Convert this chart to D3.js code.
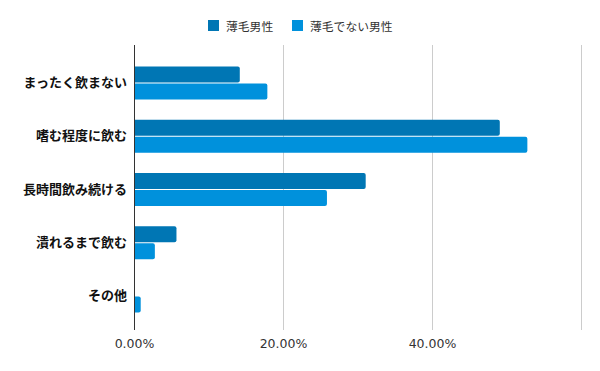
<!DOCTYPE html>
<html><head><meta charset="utf-8">
<script src="https://cdn.jsdelivr.net/npm/d3@7/dist/d3.min.js"></script>
<style>body{margin:0;background:#fff}svg{display:block}</style>
</head><body>
<svg id="c" width="600" height="371"></svg>
<script>
const categories = ["まったく飲まない","嗜む程度に飲む","長時間飲み続ける","潰れるまで飲む","その他"];
const seriesNames = ["薄毛男性","薄毛でない男性"];
const seriesColors = ["#0076b4","#0091dc"];
const valuesBald = [14.2, 49.1, 31.1, 5.7, 0];
const valuesNotBald = [17.9, 52.8, 25.9, 2.8, 0.9];
const tickValues = [0, 20, 40, 60];
const tickLabels = ["0.00%","20.00%","40.00%",""];

const svg = d3.select("#c");
const x = d3.scaleLinear().domain([0,60]).range([134,581]);
const y = d3.scaleBand().domain(categories).range([56.5,322.5]).paddingInner(0.38).paddingOuter(0.19);
const yInner = d3.scaleBand().domain(seriesNames).range([0,y.bandwidth()]).paddingInner(0.06);

// grid
svg.append("g").selectAll("line").data(tickValues.slice(1)).join("line")
  .attr("x1",d=>Math.round(x(d))+0.5).attr("x2",d=>Math.round(x(d))+0.5)
  .attr("y1",45).attr("y2",330).attr("stroke","#cccccc").attr("stroke-width",1);

// x axis labels
const xAxis = d3.axisBottom(x).tickValues(tickValues).tickFormat((d,i)=>tickLabels[i]).tickSize(0).tickPadding(9);
const gx = svg.append("g").attr("transform","translate(0,330)").call(xAxis);
gx.select(".domain").remove();
gx.selectAll("text").attr("font-family","DejaVu Sans, sans-serif").attr("font-size",12.5).attr("fill","#333");

// bars
const data = categories.map((c,i)=>({c, vals:[valuesBald[i], valuesNotBald[i]]}));
const g = svg.append("g");
data.forEach(d=>{
  d.vals.forEach((v,j)=>{
    if(v<=0) return;
    const x0 = x(0), x1 = x(v), y0 = y(d.c)+yInner(seriesNames[j]), h = yInner.bandwidth(), r = 2;
    const w = x1-x0;
    const rr = Math.min(r, w);
    g.append("path")
      .attr("d",`M${x0},${y0}H${x1-rr}Q${x1},${y0} ${x1},${y0+rr}V${y0+h-rr}Q${x1},${y0+h} ${x1-rr},${y0+h}H${x0}Z`)
      .attr("fill",seriesColors[j]);
  });
});

// y axis
const yAxis = d3.axisLeft(y).tickSize(0).tickPadding(7);
const gy = svg.append("g").attr("transform","translate(134,0)").call(yAxis);
gy.select(".domain").remove();
gy.selectAll("text").attr("font-family","'Noto Sans CJK JP', sans-serif").attr("font-size",13).attr("font-weight","bold").attr("fill","#111");
svg.append("line").attr("x1",134.5).attr("x2",134.5).attr("y1",45).attr("y2",330).attr("stroke","#333").attr("stroke-width",1);

// legend
const lx = [208, 292];
const lg = svg.append("g");
seriesNames.forEach((s,i)=>{
  lg.append("rect").attr("x",lx[i]).attr("y",20).attr("width",11).attr("height",11).attr("fill",seriesColors[i]);
  lg.append("text").attr("x",lx[i]+18).attr("y",30.5).text(s)
    .attr("font-family","'Noto Sans CJK JP', sans-serif").attr("font-size",11.8).attr("fill","#333");
});
</script>
</body></html>
